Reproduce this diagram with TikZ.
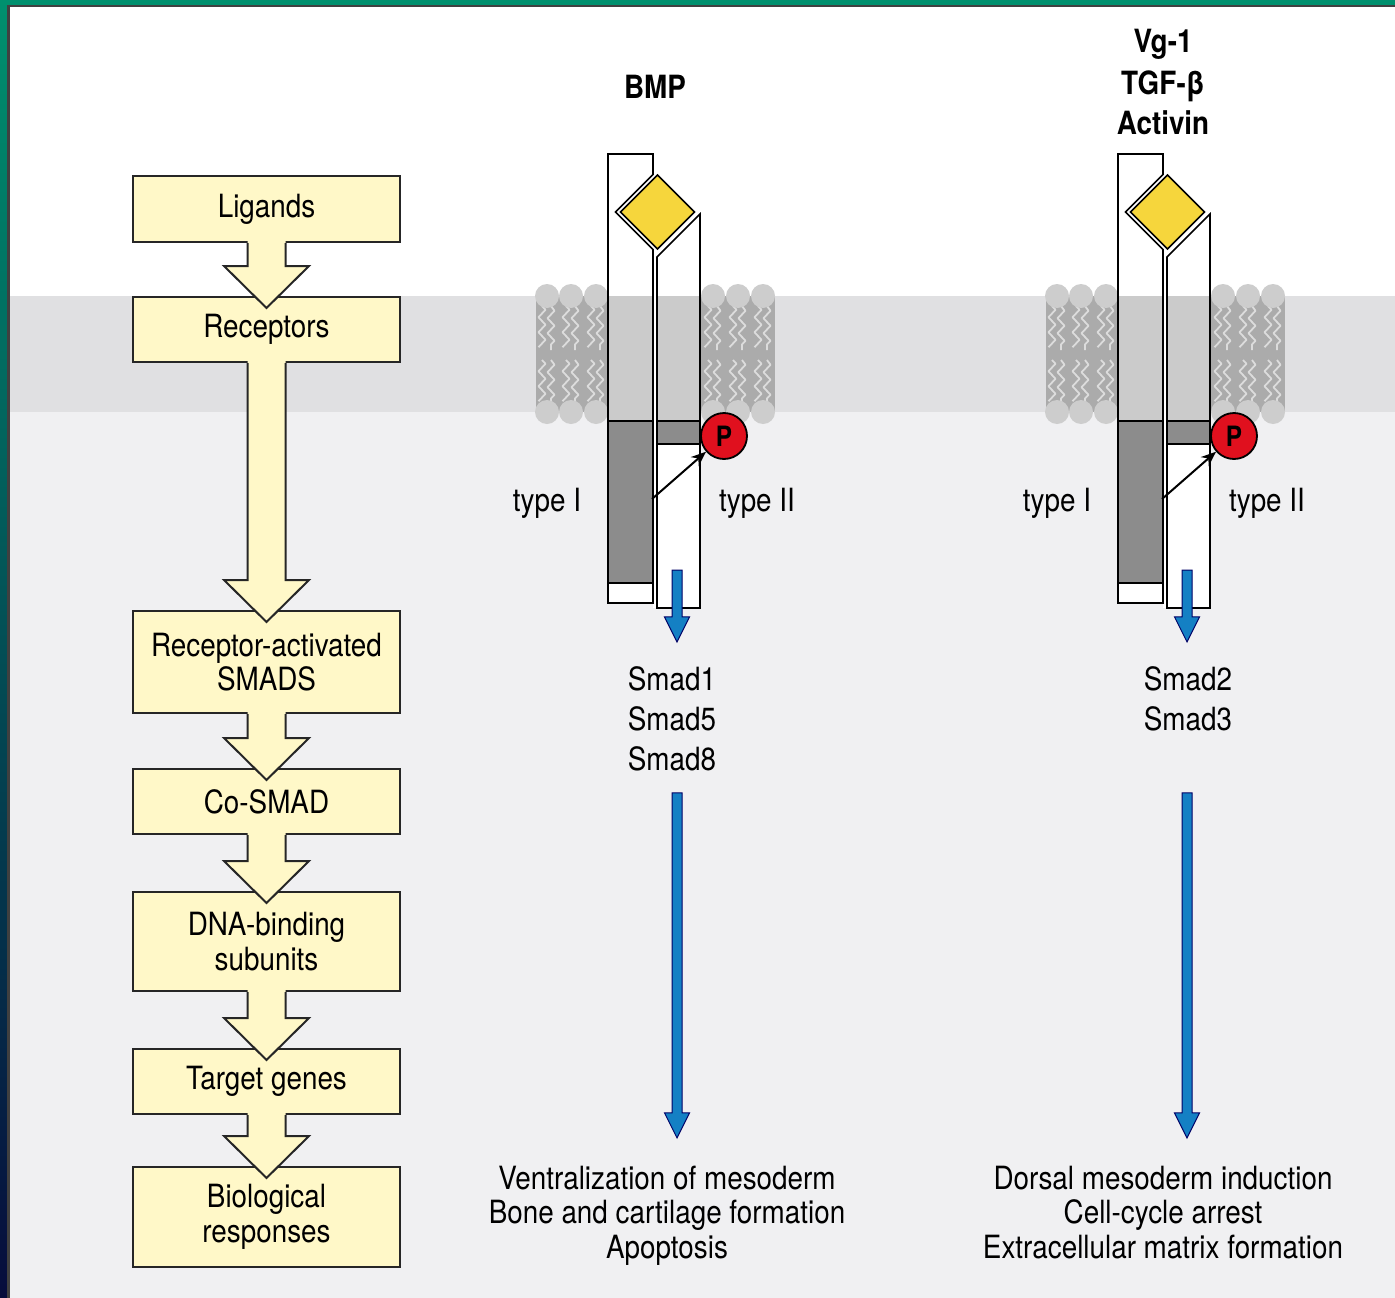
\documentclass[tikz,border=0pt]{standalone}
\usepackage{fontspec}
\setmainfont{TeX Gyre Heros}[FakeStretch=0.87]
\usetikzlibrary{arrows.meta,calc,decorations.pathmorphing}

\definecolor{framegreen}{HTML}{00906E}
\definecolor{framenavy}{HTML}{060C3C}
\definecolor{boxyellow}{HTML}{FFF8C8}
\definecolor{bandgray}{HTML}{E0E0E2}
\definecolor{cytogray}{HTML}{F0F0F2}
\definecolor{lipidgray}{HTML}{ABABAB}
\definecolor{headgray}{HTML}{CDCDCD}
\definecolor{tailgray}{HTML}{DCDCDC}
\definecolor{tmgray}{HTML}{CBCBCB}
\definecolor{kinasegray}{HTML}{8C8C8C}
\definecolor{ligandyellow}{HTML}{F6D63C}
\definecolor{phosred}{HTML}{E0101E}
\definecolor{signalblue}{HTML}{1480C4}

\newcommand\bodyfont{\fontsize{32}{34.5}\selectfont}

\tikzset{
  stagebox/.style={draw=black!85, line width=2pt, fill=boxyellow,
    minimum width=267pt, inner sep=0pt, align=center, font=\bodyfont},
  plaintext/.style={inner sep=0pt, anchor=base, font=\bodyfont},
  headtext/.style={inner sep=0pt, anchor=base, font=\bodyfont\bfseries},
  outline/.style={draw=black, line width=1.6pt},
}

% fat yellow arrow from the bottom of one box into the next
\newcommand\stagearrow[2]{%
  \fill[boxyellow] ($(#1.south)+(-19,-3)$) -- ($(#2.north)+(-19,-30)$)
    -- ($(#2.north)+(-42.5,-30)$) -- ($(#2.north)+(0,12)$)
    -- ($(#2.north)+(42.5,-30)$) -- ($(#2.north)+(19,-30)$)
    -- ($(#1.south)+(19,-3)$) -- cycle;
  \draw[draw=black!85, line width=2pt] ($(#1.south)+(-19,0)$) -- ($(#2.north)+(-19,-30)$)
    -- ($(#2.north)+(-42.5,-30)$) -- ($(#2.north)+(0,12)$)
    -- ($(#2.north)+(42.5,-30)$) -- ($(#2.north)+(19,-30)$)
    -- ($(#1.south)+(19,0)$);
}

% blue signalling arrow between two coordinates
\newcommand\signalarrow[2]{%
  \draw[fill=signalblue, draw=black!60!blue, line width=1pt]
    ($(#1)+(-5,0)$) -- ($(#2)+(-5,-25)$) -- ($(#2)+(-12.5,-25)$) -- (#2)
    -- ($(#2)+(12.5,-25)$) -- ($(#2)+(5,-25)$) -- ($(#1)+(5,0)$) -- cycle;
}

% receptor pair in the membrane; #1 = left edge of type I, #2 = name prefix
\newcommand\drawreceptor[2]{%
\begin{scope}[shift={(#1,0)}]
  % lipid bilayer either side
  \foreach \lx/\rx in {-72/0, 92/167}
    \fill[lipidgray] (\lx,296) rectangle (\rx,412);
  \foreach \hx in {-61,-37,-12,105,130,155} {
    \foreach \ty in {306,360}
      \draw[tailgray, line width=1.8pt, line join=round, decorate,
            decoration={zigzag, segment length=15pt, amplitude=3.5pt}]
        (\hx-5,\ty) -- (\hx-5,\ty+44) (\hx+4,\ty) -- (\hx+4,\ty+44);
    \fill[headgray] (\hx,296) circle (12pt) (\hx,412) circle (12pt);
  }
  % type I chain
  \fill[white] (0,154) -- (45,154) -- (45,174.5) -- (7.5,212) -- (45,249.5)
    -- (45,603) -- (0,603) -- cycle;
  \fill[tmgray] (0,296) rectangle (45,421);
  \fill[kinasegray] (0,421) rectangle (45,583);
  % type II chain
  \fill[white] (49,257) -- (92,214) -- (92,608) -- (49,608) -- cycle;
  \fill[tmgray] (49,296) rectangle (92,421);
  \fill[kinasegray] (49,421) rectangle (92,444);
  \fill[white] (45,252) rectangle (49,608);
  \draw[outline] (0,154) -- (45,154) -- (45,174.5) -- (7.5,212) -- (45,249.5)
    -- (45,603) -- (0,603) -- cycle;
  \draw[outline] (0,421) -- (45,421) (0,583) -- (45,583);
  \draw[outline] (49,257) -- (92,214) -- (92,608) -- (49,608) -- cycle;
  \draw[outline] (49,421) -- (92,421) (49,444) -- (92,444);
  % ligand
  \draw[outline, fill=ligandyellow] (49.5,175) -- (12.5,212) -- (49.5,249)
    -- (86.5,212) -- cycle;
  % phosphorylation
  \node[circle, draw, line width=1.8pt, fill=phosred, minimum size=46pt,
        inner sep=0pt, font=\fontsize{28}{28}\selectfont\bfseries] (#2P) at (116,436) {P};
  \coordinate (#2Src) at (44,499);
  \draw[-{Stealth[length=15pt,width=12pt]}, line width=2pt] (#2Src) -- (#2P);
  \node[plaintext] (#2TypeI) at (-61,511) {type I};
  \node[plaintext] (#2TypeII) at (149,511) {type II};
  \coordinate (#2Out) at (69,570);
\end{scope}}

\begin{document}
\begin{tikzpicture}[x=1pt, y=-1pt]
  \useasboundingbox (0,0) rectangle (1395,1298);
  % background: outside, membrane, cytoplasm
  \fill[white] (0,0) rectangle (1395,296);
  \fill[bandgray] (0,296) rectangle (1395,412);
  \fill[cytogray] (0,412) rectangle (1395,1298);
  % frame
  \fill[framegreen] (0,0) rectangle (1395,5);
  \shade[top color=framegreen, bottom color=framenavy] (0,0) rectangle (7,1298);
  \fill[black!75] (7,5) rectangle (1395,7.5);
  \fill[black!75] (7,5) rectangle (9.5,1298);

  % receptors
  \drawreceptor{608}{bmp}
  \drawreceptor{1118}{tgf}

  % left column
  \node[stagebox, minimum height=66pt] (ligands) at (266.5,209) {Ligands};
  \node[stagebox, minimum height=65pt] (receptors) at (266.5,329.5) {Receptors};
  \node[stagebox, minimum height=102pt] (rsmads) at (266.5,662) {Receptor-activated\\SMADS};
  \node[stagebox, minimum height=65pt] (cosmad) at (266.5,801.5) {Co-SMAD};
  \node[stagebox, minimum height=99pt] (dnabind) at (266.5,941.5) {DNA-binding\\subunits};
  \node[stagebox, minimum height=65pt] (targets) at (266.5,1081.5) {Target genes};
  \node[stagebox, minimum height=100pt] (responses) at (266.5,1217) {Biological\\responses};
  \stagearrow{ligands}{receptors}
  \stagearrow{receptors}{rsmads}
  \stagearrow{rsmads}{cosmad}
  \stagearrow{cosmad}{dnabind}
  \stagearrow{dnabind}{targets}
  \stagearrow{targets}{responses}

  % BMP branch
  \node[headtext] (bmpName) at (655,99) {BMP};
  \node[plaintext] (bmpSmad1) at (672,690) {Smad1};
  \node[plaintext] (bmpSmad2) at (672,730) {Smad5};
  \node[plaintext] (bmpSmad3) at (672,770) {Smad8};
  \node[plaintext] (bmpResp1) at (667,1189) {Ventralization of mesoderm};
  \node[plaintext] (bmpResp2) at (667,1223) {Bone and cartilage formation};
  \node[plaintext] (bmpResp3) at (667,1258) {Apoptosis};
  \coordinate (bmpIn) at ($(bmpOut |- bmpSmad1.north)+(0,-24)$);
  \coordinate (bmpSmadOut) at ($(bmpOut |- bmpSmad3.south)+(0,22)$);
  \coordinate (bmpRespIn) at ($(bmpOut |- bmpResp1.north)+(0,-27.5)$);
  \signalarrow{bmpOut}{bmpIn}
  \signalarrow{bmpSmadOut}{bmpRespIn}

  % Vg-1 / TGF-beta / activin branch
  \node[headtext] (tgfName1) at (1163,53) {Vg-1};
  \node[headtext] (tgfName2) at (1163,94) {TGF-β};
  \node[headtext] (tgfName3) at (1163,134) {Activin};
  \node[plaintext] (tgfSmad1) at (1188,690) {Smad2};
  \node[plaintext] (tgfSmad2) at (1188,730) {Smad3};
  \node[plaintext] (tgfResp1) at (1163,1189) {Dorsal mesoderm induction};
  \node[plaintext] (tgfResp2) at (1163,1223) {Cell-cycle arrest};
  \node[plaintext] (tgfResp3) at (1163,1258) {Extracellular matrix formation};
  \coordinate (tgfIn) at ($(tgfOut |- tgfSmad1.north)+(0,-24)$);
  \coordinate (tgfSmadOut) at (tgfOut |- bmpSmadOut);
  \coordinate (tgfRespIn) at ($(tgfOut |- tgfResp1.north)+(0,-27.5)$);
  \signalarrow{tgfOut}{tgfIn}
  \signalarrow{tgfSmadOut}{tgfRespIn}
\end{tikzpicture}
\end{document}
